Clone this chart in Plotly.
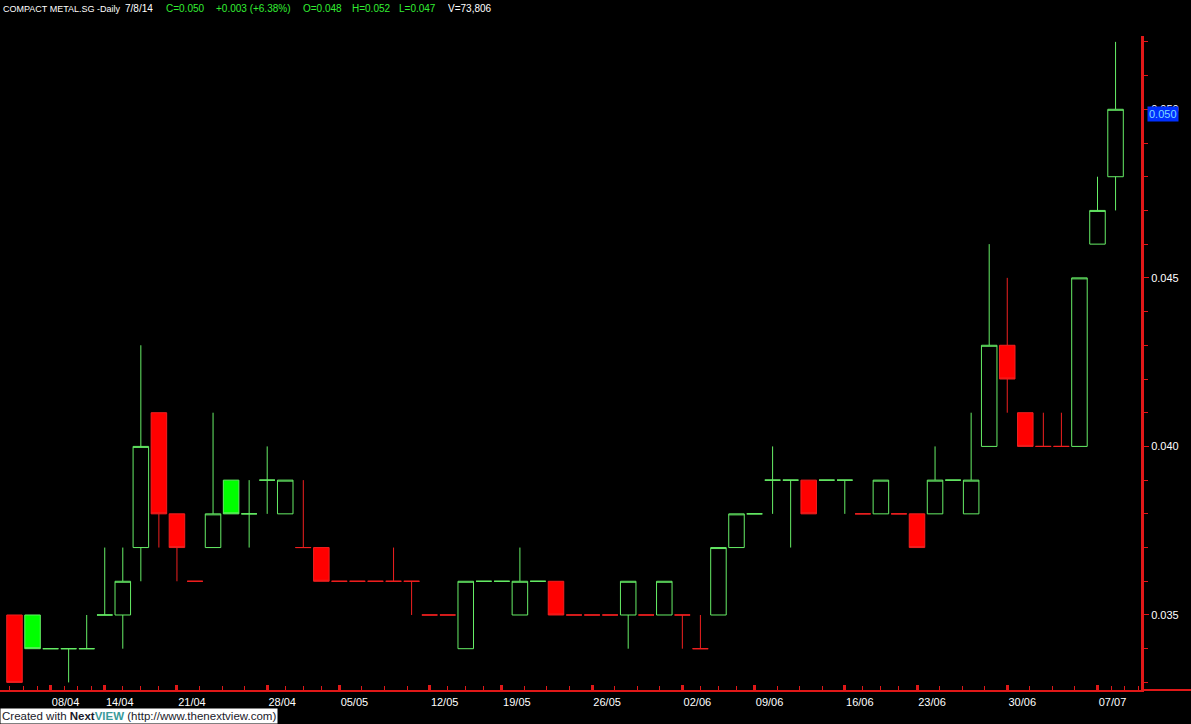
import plotly.graph_objects as go

# ---------------- data ----------------
dates = ["03/04", "04/04", "08/04", "09/04", "11/04",
         "14/04", "15/04", "16/04", "17/04",
         "21/04", "22/04", "23/04", "24/04", "25/04",
         "28/04", "29/04", "30/04", "02/05",
         "05/05", "06/05", "07/05", "08/05", "09/05",
         "12/05", "14/05", "15/05", "16/05",
         "19/05", "20/05", "21/05", "22/05", "23/05",
         "26/05", "27/05", "28/05", "29/05", "30/05",
         "02/06", "03/06", "04/06", "05/06",
         "09/06", "10/06", "11/06", "12/06", "13/06",
         "16/06", "17/06", "18/06", "19/06",
         "23/06", "24/06", "25/06", "26/06", "27/06",
         "30/06", "01/07", "02/07", "03/07", "04/07",
         "07/07", "08/07"]

opens = [0.035, 0.035, 0.034, 0.034, 0.034, 0.035, 0.035, 0.037, 0.041, 0.038,
         0.036, 0.037, 0.039, 0.038, 0.039, 0.038, 0.037, 0.037, 0.036, 0.036,
         0.036, 0.036, 0.036, 0.035, 0.035, 0.034, 0.036, 0.036, 0.035, 0.036,
         0.036, 0.035, 0.035, 0.035, 0.035, 0.035, 0.035, 0.035, 0.034, 0.035,
         0.037, 0.038, 0.039, 0.039, 0.039, 0.039, 0.039, 0.038, 0.038, 0.038,
         0.038, 0.038, 0.039, 0.038, 0.040, 0.043, 0.041, 0.040, 0.040, 0.040,
         0.046, 0.048]
highs = [0.035, 0.035, 0.034, 0.034, 0.035, 0.037, 0.037, 0.043, 0.041, 0.038,
         0.036, 0.041, 0.039, 0.039, 0.040, 0.039, 0.039, 0.037, 0.036, 0.036,
         0.036, 0.037, 0.036, 0.035, 0.035, 0.036, 0.036, 0.036, 0.037, 0.036,
         0.036, 0.035, 0.035, 0.035, 0.036, 0.035, 0.036, 0.035, 0.035, 0.037,
         0.038, 0.038, 0.040, 0.039, 0.039, 0.039, 0.039, 0.038, 0.039, 0.038,
         0.038, 0.040, 0.039, 0.041, 0.046, 0.045, 0.041, 0.041, 0.041, 0.045,
         0.048, 0.052]
lows = [0.033, 0.034, 0.034, 0.033, 0.034, 0.035, 0.034, 0.036, 0.037, 0.036,
        0.036, 0.037, 0.038, 0.037, 0.038, 0.038, 0.037, 0.036, 0.036, 0.036,
        0.036, 0.036, 0.035, 0.035, 0.035, 0.034, 0.036, 0.036, 0.035, 0.036,
        0.035, 0.035, 0.035, 0.035, 0.034, 0.035, 0.035, 0.034, 0.034, 0.035,
        0.037, 0.038, 0.038, 0.037, 0.038, 0.039, 0.038, 0.038, 0.038, 0.038,
        0.037, 0.038, 0.039, 0.038, 0.040, 0.041, 0.040, 0.040, 0.040, 0.040,
        0.046, 0.047]
closes = [0.033, 0.034, 0.034, 0.034, 0.034, 0.035, 0.036, 0.040, 0.038, 0.037,
          0.036, 0.038, 0.038, 0.038, 0.039, 0.039, 0.037, 0.036, 0.036, 0.036,
          0.036, 0.036, 0.036, 0.035, 0.035, 0.036, 0.036, 0.036, 0.036, 0.036,
          0.035, 0.035, 0.035, 0.035, 0.036, 0.035, 0.036, 0.035, 0.034, 0.037,
          0.038, 0.038, 0.039, 0.039, 0.038, 0.039, 0.039, 0.038, 0.039, 0.038,
          0.037, 0.039, 0.039, 0.039, 0.043, 0.042, 0.040, 0.040, 0.040, 0.045,
          0.047, 0.050]

volume_last = 73806
ticker = "COMPACT METAL.SG"
period = "Daily"
title_date = "7/8/14"

x_tick_labels = ["08/04", "14/04", "21/04", "28/04", "05/05", "12/05", "19/05",
                 "26/05", "02/06", "09/06", "16/06", "23/06", "30/06", "07/07"]
y_tick_values = [0.035, 0.040, 0.045, 0.050]

# ---------------- styling ----------------
BG = "#000000"
AXIS_RED = "#e01818"
GREEN_LINE = "#66ee66"
GREEN_FILL = "#00ff00"
RED_LINE = "#f02020"
RED_FILL = "#ff0000"
FONT = "Liberation Sans"

W, H = 1191, 724
ML, MR, MT, MB = 0, 50, 36, 34
plot_w = W - ML - MR
plot_h = H - MT - MB

n = len(dates)
xs = list(range(n))

# classify candles: colour by close vs previous close (ties keep previous colour),
# filled body when close < open
groups = {}
prev_col = None
for i in range(n):
    if i == 0:
        col = "g" if closes[i] >= opens[i] else "r"
    elif closes[i] > closes[i - 1]:
        col = "g"
    elif closes[i] < closes[i - 1]:
        col = "r"
    else:
        col = prev_col
    prev_col = col
    filled = closes[i] < opens[i]
    groups.setdefault((col, filled), []).append(i)

fig = go.Figure()
for (col, filled), idx in groups.items():
    line_c = GREEN_LINE if col == "g" else RED_LINE
    if filled:
        fill_c = GREEN_FILL if col == "g" else RED_FILL
    else:
        fill_c = BG
    style = dict(line=dict(color=line_c, width=1), fillcolor=fill_c)
    fig.add_trace(go.Candlestick(
        x=[xs[i] for i in idx],
        open=[opens[i] for i in idx],
        high=[highs[i] for i in idx],
        low=[lows[i] for i in idx],
        close=[closes[i] for i in idx],
        increasing=style, decreasing=style,
        whiskerwidth=0, showlegend=False, hoverinfo="skip",
    ))

# x ticks
major = [dates.index(lbl) for lbl in x_tick_labels]
minor = []
for a, b in zip(major[:-1], major[1:]):
    step = (b - a) / 4
    minor += [a + k * step for k in (1, 2, 3)]
first_step = (major[1] - major[0]) / 4
minor += [major[0] - k * first_step for k in (1, 2, 3)]
minor += [major[-1] + k * first_step for k in (1, 2, 3)]

x_range = [-0.803, 62.41]
y_range = [0.032775, 0.052174]

fig.update_layout(
    width=W, height=H,
    margin=dict(l=ML, r=MR, t=MT, b=MB),
    paper_bgcolor=BG, plot_bgcolor=BG,
    boxgap=0.14, boxgroupgap=0,
    font=dict(family=FONT, size=11, color="white"),
    xaxis=dict(
        range=x_range, rangeslider=dict(visible=False),
        showgrid=False, zeroline=False,
        showline=True, linecolor=AXIS_RED, linewidth=2,
        tickmode="array", tickvals=major, ticktext=x_tick_labels,
        ticks="inside", ticklen=5, tickwidth=3, tickcolor=AXIS_RED,
        ticklabelshift=15, ticklabelstandoff=1,
        tickfont=dict(family=FONT, size=11, color="white"),
        minor=dict(tickmode="array", tickvals=minor, ticks="inside",
                   ticklen=4, tickwidth=1, tickcolor=AXIS_RED, showgrid=False),
    ),
    yaxis=dict(
        range=y_range, side="right",
        showgrid=False, zeroline=False,
        showline=True, linecolor=AXIS_RED, linewidth=3,
        tickmode="array", tickvals=y_tick_values,
        ticktext=[f"{v:.3f}" for v in y_tick_values],
        ticks="outside", ticklen=5, tickwidth=1, tickcolor=AXIS_RED,
        tickfont=dict(family=FONT, size=11, color="white"),
        minor=dict(dtick=0.001, tick0=0, ticks="outside", ticklen=4,
                   tickwidth=1, tickcolor=AXIS_RED, showgrid=False),
    ),
)

# x axis line continues under the price scale
fig.add_shape(type="line", xref="paper", yref="paper",
              x0=1, x1=(W - ML) / plot_w, y0=0, y1=0,
              line=dict(color=AXIS_RED, width=2))

# header
c, pc = closes[-1], closes[-2]
chg = c - pc
pct = chg / pc * 100
header = [
    (f"{ticker} -{period}", "white", 1, 9),
    (title_date, "white", 123, 10),
    (f"C={c:.3f}", "#33ee33", 164, 10),
    (f"{chg:+.3f} ({pct:+.2f}%)", "#33ee33", 214, 10),
    (f"O={opens[-1]:.3f}", "#33ee33", 301, 10),
    (f"H={highs[-1]:.3f}", "#33ee33", 350, 10),
    (f"L={lows[-1]:.3f}", "#33ee33", 397, 10),
    (f"V={volume_last:,}", "white", 446, 10),
]
for text, color, px, fs in header:
    fig.add_annotation(
        text=text, xref="paper", yref="paper",
        x=(px - ML) / plot_w, y=1 + (MT - 9) / plot_h,
        xanchor="left", yanchor="middle", showarrow=False,
        font=dict(family=FONT, size=fs, color=color),
    )

# last price marker
fig.add_annotation(
    text=f"{c:.3f}", xref="paper", yref="y", x=1, y=c,
    xanchor="left", yanchor="middle", xshift=6, yshift=-5,
    showarrow=False, bgcolor="#0030ff", borderpad=1,
    font=dict(family=FONT, size=11, color="#7fdcff"),
)

# footer
fig.add_annotation(
    text=("Created with <b>Next</b><b><span style='color:#3a9a9a'>VIEW</span></b>"
          " (http://www.thenextview.com)"),
    xref="paper", yref="paper", x=0, y=-MB / plot_h,
    xanchor="left", yanchor="bottom", showarrow=False,
    bgcolor="white", borderpad=1,
    font=dict(family=FONT, size=11.5, color="#1a1a2a"),
)

fig.write_html("out.html",
               config={"displayModeBar": False},
               post_script="document.body.style.margin='0';"
                           "document.body.style.background='#000';")
